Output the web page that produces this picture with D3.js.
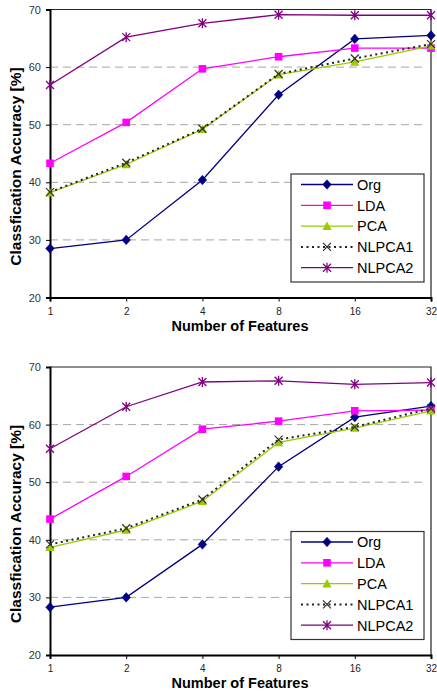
<!DOCTYPE html>
<html>
<head>
<meta charset="utf-8">
<script src="https://cdn.jsdelivr.net/npm/d3@7"></script>
<style>
  html, body { margin: 0; padding: 0; background: #fff; }
  svg { display: block; font-family: "Liberation Sans", Arial, sans-serif; }
</style>
</head>
<body>
<div id="grafica"></div>
<script>
// ==============================
// DATOS
// ==============================

const features = [1, 2, 4, 8, 16, 32];
const yTicks = [20, 30, 40, 50, 60, 70];
const seriesNames = ["Org", "LDA", "PCA", "NLPCA1", "NLPCA2"];

// gráfica superior
const orgTop    = [28.5, 30.0, 40.4, 55.2, 64.9, 65.5];
const ldaTop    = [43.3, 50.4, 59.7, 61.8, 63.3, 63.3];
const pcaTop    = [38.2, 43.1, 49.2, 58.7, 60.9, 63.7];
const nlpca1Top = [38.3, 43.4, 49.3, 58.8, 61.5, 64.0];
const nlpca2Top = [56.9, 65.2, 67.6, 69.1, 69.0, 69.0];

// gráfica inferior
const orgBot    = [28.3, 30.0, 39.2, 52.7, 61.3, 63.2];
const ldaBot    = [43.6, 51.0, 59.2, 60.6, 62.4, 62.5];
const pcaBot    = [38.7, 41.7, 46.7, 56.9, 59.4, 62.4];
const nlpca1Bot = [39.2, 42.0, 47.0, 57.4, 59.6, 62.8];
const nlpca2Bot = [55.8, 63.1, 67.4, 67.6, 67.0, 67.3];

// ==============================
// ESTILOS DE SERIES
// ==============================

const estilos = {
  Org:    { color: "#000080", dash: null,  width: 1.3, marker: "diamond" },
  LDA:    { color: "#ff00ff", dash: null,  width: 1.3, marker: "square" },
  PCA:    { color: "#99cc00", dash: null,  width: 1.3, marker: "triangle" },
  NLPCA1: { color: "#222222", dash: "2,3.5", width: 2, marker: "x" },
  NLPCA2: { color: "#800080", dash: null,  width: 1.3, marker: "star" }
};

const W = 437, H = 692;
const svg = d3.select("#grafica").append("svg")
  .attr("width", W).attr("height", H);

function dibujarMarcador(g, tipo, x, y, color) {
  if (tipo === "diamond") {
    g.append("path").attr("d", `M${x},${y-4.8}L${x+4.3},${y}L${x},${y+4.8}L${x-4.3},${y}Z`)
      .attr("fill", color).attr("stroke", color).attr("stroke-width", 0.5);
  } else if (tipo === "square") {
    g.append("rect").attr("x", x - 3.8).attr("y", y - 3.8).attr("width", 7.6).attr("height", 7.6)
      .attr("fill", color);
  } else if (tipo === "triangle") {
    g.append("path").attr("d", `M${x},${y-4.5}L${x+4.6},${y+3.8}L${x-4.6},${y+3.8}Z`)
      .attr("fill", color);
  } else if (tipo === "x") {
    g.append("path").attr("d", `M${x-4},${y-4}L${x+4},${y+4}M${x-4},${y+4}L${x+4},${y-4}`)
      .attr("stroke", "#333").attr("stroke-width", 1.2).attr("fill", "none");
  } else if (tipo === "star") {
    g.append("path").attr("d", `M${x-4},${y-4}L${x+4},${y+4}M${x-4},${y+4}L${x+4},${y-4}M${x},${y-5}L${x},${y+5}`)
      .attr("stroke", color).attr("stroke-width", 1.3).attr("fill", "none");
  }
}

// ==============================
// FUNCIÓN DE GRÁFICA
// ==============================

function dibujarGrafica(top, datos) {
  const left = 50, right = 431, bottom = top + 288;
  const x = d3.scaleLog().base(2).domain([1, 32]).range([left, right]);
  const y = d3.scaleLinear().domain([20, 70]).range([bottom, top]);

  const g = svg.append("g");

  // rejilla
  g.selectAll(".grid").data(yTicks.filter(d => d > 20 && d < 70)).join("line")
    .attr("x1", left).attr("x2", right - 4)
    .attr("y1", d => y(d)).attr("y2", d => y(d))
    .attr("stroke", "#a6a6a6").attr("stroke-width", 1).attr("stroke-dasharray", "8,5");

  // marco superior y derecho
  g.append("path").attr("d", `M${left},${top}H${right}V${bottom}`)
    .attr("fill", "none").attr("stroke", "#222").attr("stroke-width", 1.2);

  // eje Y
  const ejeY = g.append("g").attr("transform", `translate(${left},0)`)
    .call(d3.axisLeft(y).tickValues(yTicks).tickSize(4).tickPadding(5));
  ejeY.select(".domain").attr("stroke", "#000").attr("stroke-width", 2);
  ejeY.selectAll(".tick line").attr("stroke", "#000");
  ejeY.selectAll("text").attr("font-size", 11).attr("fill", "#333")
    .attr("font-family", "'Liberation Sans', Arial, sans-serif");

  // eje X
  const ejeX = g.append("g").attr("transform", `translate(0,${bottom})`)
    .call(d3.axisBottom(x).tickValues(features).tickFormat(d3.format("d")).tickSize(4).tickPadding(6));
  ejeX.select(".domain").attr("stroke", "#000").attr("stroke-width", 2);
  ejeX.selectAll(".tick line").attr("stroke", "#000");
  ejeX.selectAll("text").attr("font-size", 10).attr("fill", "#222")
    .attr("font-family", "'Liberation Sans', Arial, sans-serif");

  // etiquetas de ejes
  g.append("text").attr("x", 240).attr("y", bottom + 33)
    .attr("text-anchor", "middle").attr("font-size", 14.5).attr("font-weight", "bold")
    .text("Number of Features");
  g.append("text").attr("transform", `translate(21,${top + 157}) rotate(-90)`)
    .attr("text-anchor", "middle").attr("font-size", 15.5).attr("font-weight", "bold")
    .text("Classfication Accuracy [%]");

  // series
  const linea = d3.line().x((d, i) => x(features[i])).y(d => y(d));
  seriesNames.forEach((nombre, k) => {
    const est = estilos[nombre];
    const valores = datos[k];
    g.append("path").datum(valores).attr("d", linea)
      .attr("fill", "none").attr("stroke", est.color).attr("stroke-width", est.width)
      .attr("stroke-dasharray", est.dash);
    valores.forEach((v, i) => dibujarMarcador(g, est.marker, x(features[i]), y(v), est.color));
  });

  // leyenda
  const lx = 291, ly = top + 164.5, lw = 133, lh = 108;
  const leyenda = g.append("g");
  leyenda.append("rect").attr("x", lx).attr("y", ly).attr("width", lw).attr("height", lh)
    .attr("fill", "#fff").attr("stroke", "#333").attr("stroke-width", 1.2);
  seriesNames.forEach((nombre, k) => {
    const est = estilos[nombre];
    const yy = ly + 10.5 + k * 20.8;
    leyenda.append("line").attr("x1", lx + 10).attr("x2", lx + 62).attr("y1", yy).attr("y2", yy)
      .attr("stroke", est.color).attr("stroke-width", est.width).attr("stroke-dasharray", est.dash);
    dibujarMarcador(leyenda, est.marker, lx + 36, yy, est.color);
    leyenda.append("text").attr("x", lx + 66).attr("y", yy + 5.3)
      .attr("font-size", 14.5).attr("fill", "#000").text(nombre);
  });
}

dibujarGrafica(9.5, [orgTop, ldaTop, pcaTop, nlpca1Top, nlpca2Top]);
dibujarGrafica(367, [orgBot, ldaBot, pcaBot, nlpca1Bot, nlpca2Bot]);
</script>
</body>
</html>
